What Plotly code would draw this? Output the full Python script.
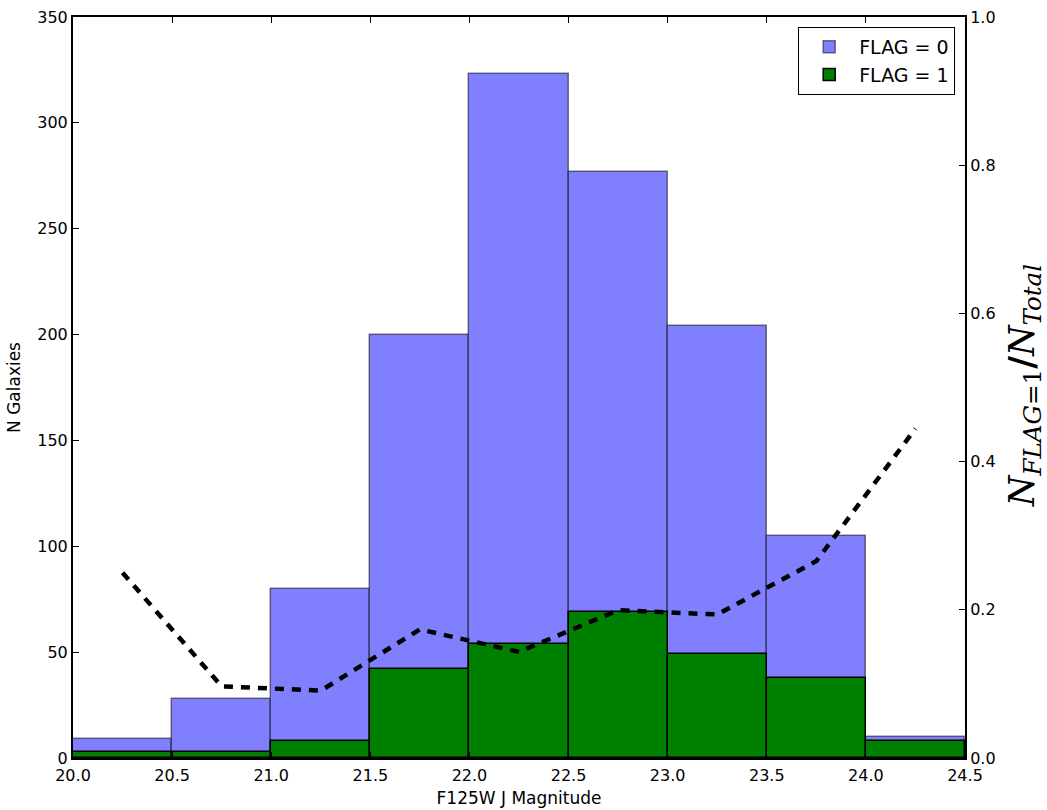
import plotly.graph_objects as go

# Histogram bins (left edges, width 0.5 mag)
bin_left = [20.0, 20.5, 21.0, 21.5, 22.0, 22.5, 23.0, 23.5, 24.0]
bin_width = 0.5
n_flag0 = [9, 28, 80, 200, 323, 277, 204, 105, 10]
n_flag1 = [3, 3, 8, 42, 54, 69, 49, 38, 8]

x_ticks = [20.0, 20.5, 21.0, 21.5, 22.0, 22.5, 23.0, 23.5, 24.0, 24.5]
y_ticks = [0, 50, 100, 150, 200, 250, 300, 350]
y2_ticks = [0.0, 0.2, 0.4, 0.6, 0.8, 1.0]

centers = [b + bin_width / 2 for b in bin_left]
frac_flag1 = [f1 / (f0 + f1) for f0, f1 in zip(n_flag0, n_flag1)]

FONT = "DejaVu Sans"

fig = go.Figure()

fig.add_trace(go.Bar(
    x=centers, y=n_flag0, width=bin_width, name="FLAG = 0",
    marker=dict(color="#8080ff", line=dict(color="rgba(0,0,0,0.5)", width=1.5)),
    yaxis="y",
))
fig.add_trace(go.Bar(
    x=centers, y=n_flag1, width=bin_width, name="FLAG = 1",
    marker=dict(color="#008000", line=dict(color="black", width=1.5)),
    yaxis="y",
))
fig.add_trace(go.Scatter(
    x=centers, y=frac_flag1, mode="lines", showlegend=False,
    line=dict(color="black", width=4.5, dash="9px,8px"),
    yaxis="y2",
))

tickfont = dict(family=FONT, size=16, color="black")

fig.update_layout(
    width=1047, height=810,
    margin=dict(l=73, r=82, t=17, b=52, autoexpand=False),
    paper_bgcolor="white", plot_bgcolor="white",
    barmode="overlay", bargap=0,
    font=dict(family=FONT, size=16, color="black"),
    xaxis=dict(
        range=[20.0, 24.5], tickvals=x_ticks, tickformat=".1f",
        ticks="inside", ticklen=6, tickwidth=1, tickcolor="black",
        showline=True, linecolor="black", linewidth=2, mirror="ticks",
        showgrid=False, zeroline=False, tickfont=tickfont, ticklabelstandoff=2,
        title=dict(text="F125W J Magnitude", font=dict(family=FONT, size=17), standoff=8),
    ),
    yaxis=dict(
        range=[0, 350], tickvals=y_ticks,
        ticks="inside", ticklen=6, tickwidth=1, tickcolor="black",
        showline=True, linecolor="black", linewidth=2,
        showgrid=False, zeroline=False, tickfont=tickfont,
        title=dict(text="N Galaxies", font=dict(family=FONT, size=17), standoff=12),
    ),
    yaxis2=dict(
        range=[0, 1.0], tickvals=y2_ticks, tickformat=".1f",
        overlaying="y", side="right",
        ticks="inside", ticklen=6, tickwidth=1, tickcolor="black",
        showline=True, linecolor="black", linewidth=2,
        showgrid=False, zeroline=False, tickfont=tickfont,
    ),
    legend=dict(
        x=0.989, y=0.9865, xanchor="right", yanchor="top",
        bordercolor="black", borderwidth=1, bgcolor="white",
        font=dict(family=FONT, size=19), traceorder="normal",
        itemwidth=50, tracegroupgap=4,
    ),
    annotations=[dict(
        text="<i>N</i><sub><i>FLAG</i>=1</sub><b>/</b><i>N</i><sub><i>Total</i></sub>",
        xref="paper", yref="paper", x=1.066, y=0.503,
        xanchor="center", yanchor="middle", textangle=-90, showarrow=False,
        font=dict(family="DejaVu Serif", size=35, color="black"),
    )],
)

fig.write_html("out.html")
